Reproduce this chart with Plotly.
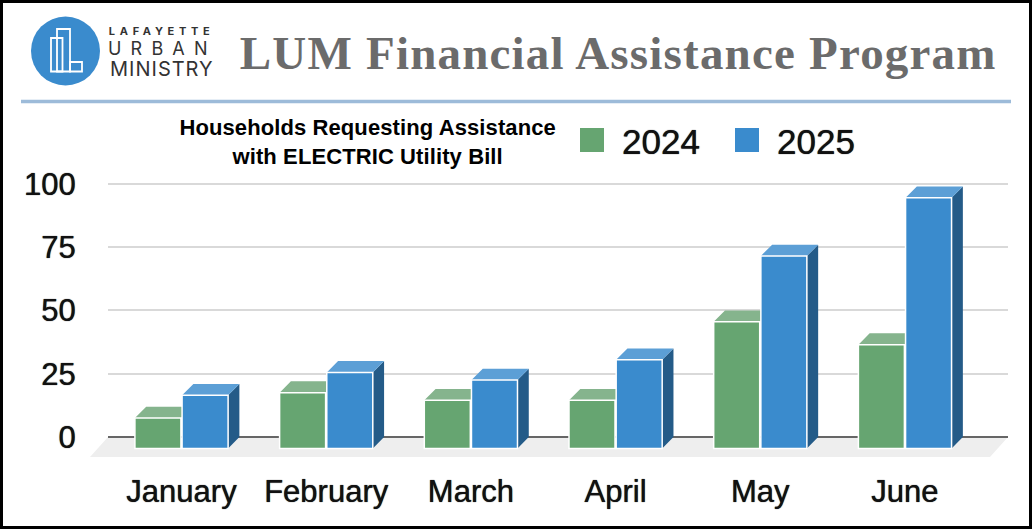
import plotly.graph_objects as go

months = ["January", "February", "March", "April", "May", "June"]
values_2024 = [12, 22, 19, 19, 50, 41]
values_2025 = [21, 30, 27, 35, 76, 99]
y_ticks = [0, 25, 50, 75, 100]
chart_title = "<b>Households Requesting Assistance<br>with ELECTRIC Utility Bill</b>"
page_title = "<b>LUM Financial Assistance Program</b>"

W, H = 1032, 529
GREEN, GREEN_TOP = "#66a571", "#85b48d"
BLUE, BLUE_TOP, BLUE_SIDE = "#3a8bcd", "#5c9fd6", "#245b88"
BAR_W = 0.318
GAP = 0.004
DX, DY = 0.078, 4.5
X_RANGE = [-0.508, 5.712]
Y_RANGE = [-8.27, 103.5]
HEAVY = "0 0 0.9px #000000"


def px(x):
    return x / W


def py(y):
    return 1 - y / H


def faces(vals, x_off):
    top_x, top_y, side_x, side_y = [], [], [], []
    for i, v in enumerate(vals):
        x0 = i + x_off
        x1 = x0 + BAR_W
        top_x += [x0, x1, x1 + DX, x0 + DX, x0, None]
        top_y += [v - DY, v - DY, v, v, v - DY, None]
        side_x += [x1, x1 + DX, x1 + DX, x1, x1, None]
        side_y += [v - DY, v, 0, -DY, v - DY, None]
    return top_x, top_y, side_x, side_y


x = list(range(len(months)))
off_24, off_25 = -BAR_W - GAP, GAP
fig = go.Figure()


def face(xs, ys, color, name):
    fig.add_trace(go.Scatter(x=xs, y=ys, mode="lines", fill="toself", fillcolor=color,
                             line=dict(width=0, color=color), hoverinfo="skip",
                             showlegend=False, name=name, xaxis="x", yaxis="y"))


tx, ty, sx, sy = faces(values_2024, off_24)
face(tx, ty, GREEN_TOP, "2024 top")
tx, ty, sx, sy = faces(values_2025, off_25)
face(sx, sy, BLUE_SIDE, "2025 side")
face(tx, ty, BLUE_TOP, "2025 top")

for name, vals, off, col in [("2024", values_2024, off_24, GREEN), ("2025", values_2025, off_25, BLUE)]:
    fig.add_trace(go.Bar(x=x, y=vals, base=-DY, width=BAR_W, offset=off, name=name,
                         marker=dict(color=col, line=dict(color="white", width=1.5)),
                         showlegend=False, xaxis="x2", yaxis="y2"))

xdom = [px(108), px(1008)]
ydom = [py(458), py(175)]
fig.update_layout(
    width=W, height=H, margin=dict(l=0, r=0, t=0, b=0, pad=0, autoexpand=False),
    paper_bgcolor="white", plot_bgcolor="rgba(0,0,0,0)", barmode="overlay",
    font=dict(family="Liberation Sans", color="#111111"), showlegend=False,
    xaxis=dict(domain=xdom, range=X_RANGE, tickmode="array", tickvals=x, ticktext=months,
               showgrid=False, zeroline=False, showline=False, ticks="outside", ticklen=6,
               tickcolor="rgba(0,0,0,0)", tickfont=dict(size=31, shadow=HEAVY), anchor="y"),
    yaxis=dict(domain=ydom, range=Y_RANGE, tickmode="array", tickvals=y_ticks,
               gridcolor="#d9d9d9", gridwidth=2, zeroline=True, zerolinecolor="#666666",
               zerolinewidth=2, showline=False, ticks="outside", ticklen=25,
               tickcolor="rgba(0,0,0,0)", tickfont=dict(size=31, shadow=HEAVY), anchor="x"),
    xaxis2=dict(domain=xdom, range=X_RANGE, overlaying="x", visible=False, anchor="y2"),
    yaxis2=dict(domain=ydom, range=Y_RANGE, overlaying="y", visible=False, anchor="x2"),
)

shapes = [
    # floor
    dict(type="path", xref="paper", yref="paper", layer="below", line=dict(width=0), fillcolor="#eeeeee",
         path=f"M{px(108)},{py(437)} L{px(1008)},{py(437)} L{px(990)},{py(457)} L{px(90)},{py(457)} Z"),
    # border and rule
    dict(type="rect", xref="paper", yref="paper", x0=px(1.5), x1=px(W - 1.5), y0=py(1.5), y1=py(H - 1.5),
         line=dict(color="black", width=3), layer="above"),
    dict(type="line", xref="paper", yref="paper", x0=px(21), x1=px(1011), y0=py(101.5), y1=py(101.5),
         line=dict(color="#9dbbd9", width=3.5)),
    # logo
    dict(type="circle", xref="paper", yref="paper", x0=px(31), x1=px(100), y0=py(16.5), y1=py(85.5),
         fillcolor="#3a8bcd", line=dict(width=0)),
    # legend swatches
    dict(type="rect", xref="paper", yref="paper", x0=px(580), x1=px(604), y0=py(128), y1=py(152),
         fillcolor=GREEN, line=dict(width=0)),
    dict(type="rect", xref="paper", yref="paper", x0=px(735), x1=px(759), y0=py(128), y1=py(152),
         fillcolor=BLUE, line=dict(width=0)),
]
for x0, x1, y0, y1 in [(51, 62.5, 38, 71.5), (57, 70, 29, 71.5), (70, 82, 62, 71.5)]:
    shapes.append(dict(type="rect", xref="paper", yref="paper", x0=px(x0), x1=px(x1), y0=py(y0), y1=py(y1),
                       line=dict(color="white", width=1.8)))
fig.update_layout(shapes=shapes)


def note(text, xc, yc, size, color="#111111", family="Liberation Sans", shadow=None):
    f = dict(size=size, color=color, family=family)
    if shadow:
        f["shadow"] = shadow
    fig.add_annotation(text=text, xref="paper", yref="paper", x=px(xc), y=py(yc), showarrow=False,
                       xanchor="center", yanchor="middle", align="center", font=f)


note(page_title, 617.5, 53, 47, "#6b6b6b", "Liberation Serif")
note(chart_title, 367.5, 142, 22, "#000000")
note("2024", 660.5, 141, 35, shadow=HEAVY)
note("2025", 816, 141, 35, shadow=HEAVY)
note("<b>LAFAYETTE</b>", 162, 31, 11, "#333333", "Inter")
note("URBAN", 162, 48.5, 18, "#333333", "Inter")
note("MINISTRY", 162, 69, 20, "#333333", "Inter")

post = """
document.body.style.margin='0';
document.querySelectorAll('.annotation-text').forEach(function(t){
  var s=t.textContent;
  if(s==='LAFAYETTE') t.style.letterSpacing='4.7px';
  if(s==='URBAN') t.style.letterSpacing='9.2px';
  if(s==='MINISTRY') t.style.letterSpacing='1px';
  if(s.indexOf('LUM')===0) t.style.letterSpacing='1.2px';
  if(s.indexOf('Households')===0) t.style.letterSpacing='0.1px';
});
"""
fig.write_html("out.html", post_script=post, config={"displayModeBar": False})
